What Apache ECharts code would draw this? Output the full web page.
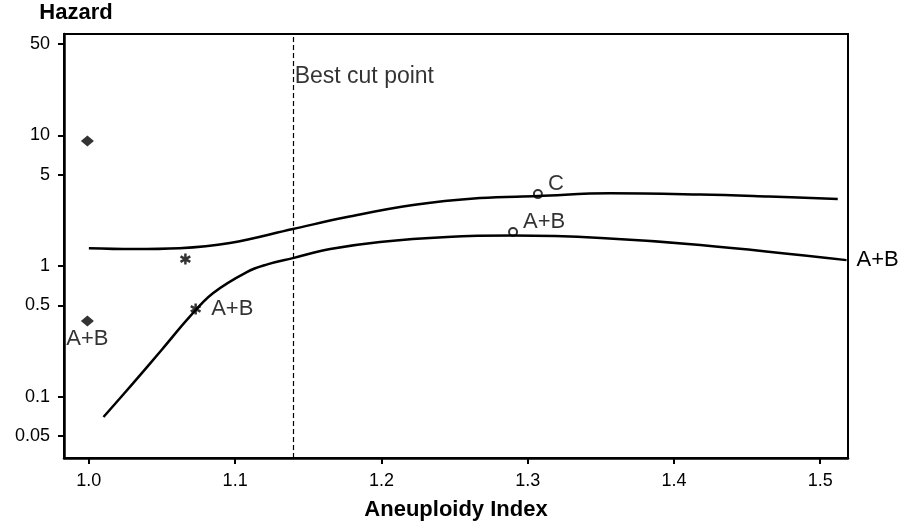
<!DOCTYPE html>
<html>
<head>
<meta charset="utf-8">
<script src="https://cdn.jsdelivr.net/npm/echarts@6/dist/echarts.min.js"></script>
<style>
  html, body { margin: 0; padding: 0; background: #fff; }
  #chart { width: 905px; height: 528px; }
</style>
</head>
<body>
<div id="chart"></div>
<script>
var dom = document.getElementById("chart");
var myChart = echarts.init(dom);

// tick labels
var xTicks = [1.0, 1.1, 1.2, 1.3, 1.4, 1.5];
var yTicks = [0.05, 0.1, 0.5, 1, 5, 10, 50];

// upper curve
var upperX = [1.0, 1.03, 1.062, 1.0964, 1.1395, 1.1765, 1.2216, 1.2674, 1.307, 1.3564, 1.418, 1.465, 1.512];
var upperY = [1.37, 1.35, 1.37, 1.5, 1.92, 2.37, 2.93, 3.31, 3.43, 3.6, 3.52, 3.4, 3.26];

// lower curve (A+B)
var lowerX = [1.01, 1.03, 1.05, 1.069, 1.0848, 1.108, 1.122, 1.1395, 1.165, 1.199, 1.245, 1.29, 1.35, 1.418, 1.518];
var lowerY = [0.07, 0.126, 0.23, 0.41, 0.62, 0.9, 1.03, 1.15, 1.35, 1.53, 1.67, 1.71, 1.64, 1.45, 1.11];

// marked points
var diamonds = [[0.999, 9.05, ''], [0.999, 0.38, 'A+B']];
var stars = [[1.066, 1.13, ''], [1.073, 0.47, 'A+B']];
var circles = [[1.29, 1.82, 'A+B'], [1.307, 3.55, 'C']];

var cutPoint = 1.14;

function zip(xs, ys) {
    var out = [];
    for (var i = 0; i < xs.length; i++) out.push([xs[i], ys[i]]);
    return out;
}

var asterisk = 'path://M-1.1,5 L-1.1,-5 L1.1,-5 L1.1,5 Z ' +
    'M3.78,3.45 L-4.88,-1.55 L-3.78,-3.45 L4.88,1.55 Z ' +
    'M-4.88,1.55 L3.78,-3.45 L4.88,-1.55 L-3.78,3.45 Z';

var font = 'Liberation Sans, Arial, sans-serif';

var option = {
    animation: false,
    textStyle: { fontFamily: font, color: '#000' },
    grid: {
        left: 64, right: 57, top: 34, bottom: 70,
        show: true, borderColor: '#000', borderWidth: 2
    },
    xAxis: {
        type: 'value',
        min: 0.983,
        max: 1.519,
        name: 'Aneuploidy Index',
        nameLocation: 'middle',
        nameGap: 41,
        nameTextStyle: { fontSize: 22, fontWeight: 'bold', color: '#000', fontFamily: font },
        axisLine: { show: true, lineStyle: { color: '#000', width: 2.5 } },
        axisTick: { show: true, customValues: xTicks, length: 6, lineStyle: { color: '#000', width: 2 } },
        axisLabel: {
            customValues: xTicks, margin: 14, fontSize: 18, color: '#000', fontFamily: font,
            formatter: function (v) { return v.toFixed(1); }
        },
        splitLine: { show: false }
    },
    yAxis: {
        type: 'log',
        min: 0.034,
        max: 59.6,
        name: 'Hazard',
        nameLocation: 'end',
        nameGap: 10,
        nameTextStyle: { fontSize: 22, fontWeight: 'bold', color: '#000', fontFamily: font, padding: [0, 0, 0, 24] },
        axisLine: { show: true, lineStyle: { color: '#000', width: 2.5 } },
        axisTick: { show: true, customValues: yTicks, length: 6, lineStyle: { color: '#000', width: 2 } },
        axisLabel: {
            customValues: yTicks, margin: 14, fontSize: 18, color: '#000', fontFamily: font,
            formatter: function (v) { return String(v); }
        },
        splitLine: { show: false },
        minorTick: { show: false }
    },
    series: [
        {
            name: 'upper',
            type: 'line',
            data: zip(upperX, upperY),
            smooth: 0.4,
            showSymbol: false,
            lineStyle: { color: '#000', width: 2.5 },
            markLine: {
                silent: true,
                symbol: 'none',
                lineStyle: { color: '#000', type: [5, 3], width: 1.2 },
                label: { show: false },
                data: [{ xAxis: cutPoint }]
            }
        },
        {
            name: 'lower',
            type: 'line',
            data: zip(lowerX, lowerY),
            smooth: 0.4,
            showSymbol: false,
            lineStyle: { color: '#000', width: 2.5 },
            endLabel: { show: true, formatter: 'A+B', fontSize: 22, color: '#000', distance: 10, fontFamily: font }
        },
        {
            name: 'cut label',
            type: 'scatter',
            symbolSize: 0,
            data: [[cutPoint, 28, 'Best cut point']],
            label: {
                show: true, position: 'right', distance: 1, fontSize: 23, color: '#000', fontFamily: font,
                formatter: function (p) { return p.data[2]; }
            }
        },
        {
            name: 'diamonds',
            type: 'scatter',
            symbol: 'diamond',
            symbolSize: [13, 11],
            itemStyle: { color: '#000' },
            data: diamonds,
            label: {
                show: true, position: 'bottom', distance: 1, fontSize: 22, color: '#000', fontFamily: font,
                formatter: function (p) { return p.data[2]; }
            }
        },
        {
            name: 'stars',
            type: 'scatter',
            symbol: asterisk,
            symbolSize: 11,
            itemStyle: { color: '#000' },
            data: stars,
            label: {
                show: true, position: 'right', distance: 10, fontSize: 22, color: '#000', fontFamily: font,
                formatter: function (p) { return p.data[2]; }
            }
        },
        {
            name: 'circles',
            type: 'scatter',
            symbol: 'emptyCircle',
            symbolSize: 8,
            itemStyle: { color: '#000', borderColor: '#000', borderWidth: 1.5 },
            data: circles,
            label: {
                show: true, position: [15, -16], fontSize: 22, color: '#000', fontFamily: font,
                formatter: function (p) { return p.data[2]; }
            }
        }
    ]
};

if (option && typeof option === "object") {
    myChart.setOption(option, true);
}
</script>
</body>
</html>
